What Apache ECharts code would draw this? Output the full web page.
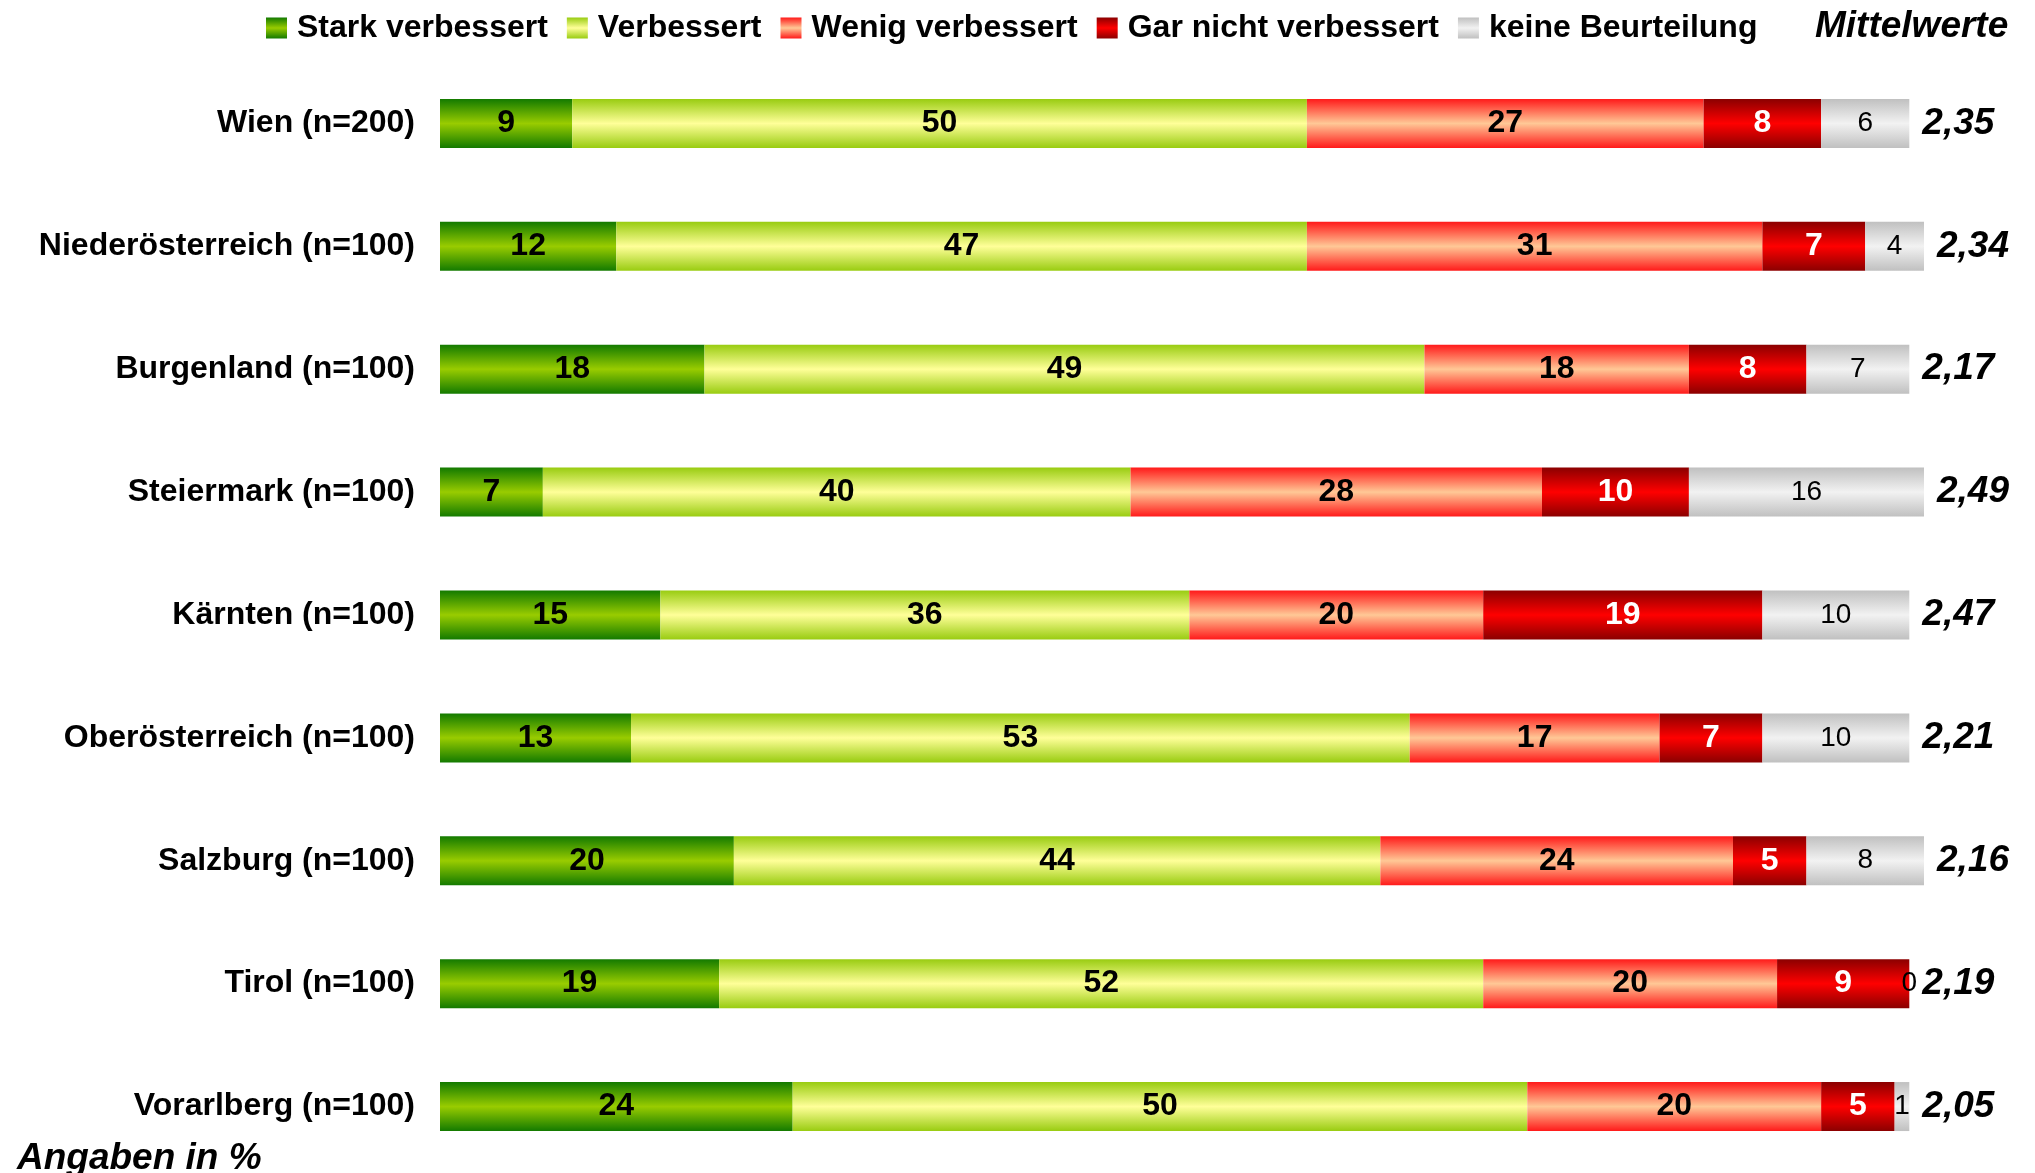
<!DOCTYPE html>
<html>
<head>
<meta charset="utf-8">
<title>Verbesserung nach Bundesland</title>
<script src="https://cdn.jsdelivr.net/npm/echarts@6/dist/echarts.min.js"></script>
<style>
  html, body { margin: 0; padding: 0; background: #fff; }
  #chart { width: 2035px; height: 1173px; }
</style>
</head>
<body>
<div id="chart"></div>
<script>
// Bundesländer, oben nach unten
var regions = ['Wien (n=200)', 'Niederösterreich (n=100)', 'Burgenland (n=100)', 'Steiermark (n=100)',
  'Kärnten (n=100)', 'Oberösterreich (n=100)', 'Salzburg (n=100)', 'Tirol (n=100)', 'Vorarlberg (n=100)'];

var stark = [9, 12, 18, 7, 15, 13, 20, 19, 24];
var verbessert = [50, 47, 49, 40, 36, 53, 44, 52, 50];
var wenig = [27, 31, 18, 28, 20, 17, 24, 20, 20];
var garNicht = [8, 7, 8, 10, 19, 7, 5, 9, 5];
var keine = [6, 4, 7, 16, 10, 10, 8, 0, 1];
var means = ['2,35', '2,34', '2,17', '2,49', '2,47', '2,21', '2,16', '2,19', '2,05'];

var font = '"Liberation Sans", Arial, Helvetica, sans-serif';

// vertical gradient: edge colour top/bottom, light colour in the middle
function grad(edge, mid) {
  return {
    type: 'linear', x: 0, y: 0, x2: 0, y2: 1,
    colorStops: [
      { offset: 0, color: edge },
      { offset: 0.5, color: mid },
      { offset: 1, color: edge }
    ]
  };
}

function barSeries(name, data, color, labelColor, bold, size) {
  return {
    name: name,
    type: 'bar',
    stack: 'all',
    barWidth: 49,
    clip: false,
    itemStyle: { color: color },
    label: {
      show: true,
      position: 'inside',
      color: labelColor,
      fontFamily: font,
      fontWeight: bold ? 'bold' : 'normal',
      fontSize: size
    },
    emphasis: { disabled: true },
    data: data
  };
}

var chart = echarts.init(document.getElementById('chart'));

var series = [
  barSeries('Stark verbessert', stark, grad('#137a00', '#99cc00'), '#000', true, 32),
  barSeries('Verbessert', verbessert, grad('#99cc11', '#ffff99'), '#000', true, 32),
  barSeries('Wenig verbessert', wenig, grad('#ff1a1a', '#ffc896'), '#000', true, 32),
  barSeries('Gar nicht verbessert', garNicht, grad('#8b0000', '#ff0000'), '#fff', true, 32),
  barSeries('keine Beurteilung', keine, grad('#c0c0c0', '#f2f2f2'), '#000', false, 28)
];

// Mittelwerte: leere Balken am Ende des Stapels, nur das Label ist sichtbar
series.push({
  name: 'Mittelwerte',
  type: 'bar',
  stack: 'all',
  barWidth: 49,
  clip: false,
  itemStyle: { color: 'transparent' },
  label: {
    show: true,
    position: 'right',
    distance: 13,
    color: '#000',
    fontFamily: font,
    fontWeight: 'bold',
    fontStyle: 'italic',
    fontSize: 37,
    formatter: function (p) { return means[p.dataIndex]; }
  },
  emphasis: { disabled: true },
  data: regions.map(function () { return 0; })
});

chart.setOption({
  animation: false,
  title: [
    {
      text: 'Mittelwerte',
      left: 1810, top: 3,
      textStyle: { fontFamily: font, fontWeight: 'bold', fontStyle: 'italic', fontSize: 37, color: '#000' }
    },
    {
      text: 'Angaben in %',
      left: 12, top: 1135,
      textStyle: { fontFamily: font, fontWeight: 'bold', fontStyle: 'italic', fontSize: 37, color: '#000' }
    }
  ],
  legend: {
    data: ['Stark verbessert', 'Verbessert', 'Wenig verbessert', 'Gar nicht verbessert', 'keine Beurteilung'],
    left: 261, top: 7,
    itemWidth: 21, itemHeight: 21,
    itemGap: 19,
    icon: 'rect',
    selectedMode: false,
    textStyle: { fontFamily: font, fontWeight: 'bold', fontSize: 32, color: '#000', padding: [0, 0, 0, 5] }
  },
  grid: { left: 440, right: 111, top: 62, bottom: 5 },
  xAxis: { type: 'value', min: 0, max: 101, show: false },
  yAxis: {
    type: 'category',
    inverse: true,
    data: regions,
    axisLine: { show: false },
    axisTick: { show: false },
    axisLabel: { fontFamily: font, fontWeight: 'bold', fontSize: 32, color: '#000', margin: 25 }
  },
  series: series
});
</script>
</body>
</html>
